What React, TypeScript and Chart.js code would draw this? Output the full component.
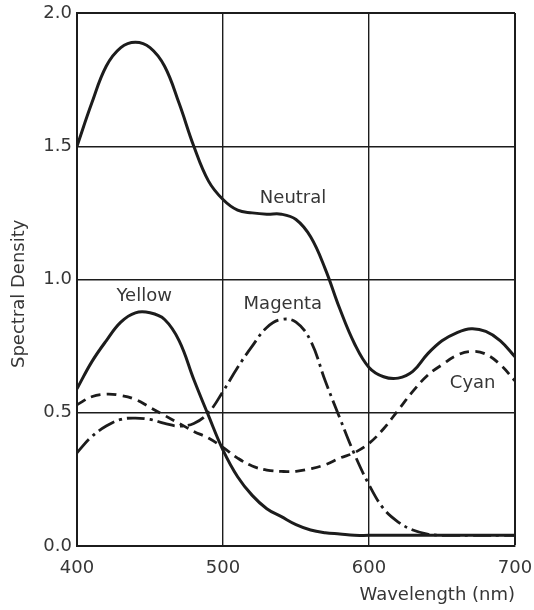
import { useEffect, useRef } from "react";
import { Chart, registerables } from "chart.js";

Chart.register(...registerables);

const wavelengths = [400, 410, 420, 430, 440, 450, 460, 470, 480, 490, 500, 510, 520, 530, 540, 550, 560, 570, 580, 590, 600, 610, 620, 630, 640, 650, 660, 670, 680, 690, 700];
const neutral = [1.5, 1.66, 1.8, 1.87, 1.89, 1.87, 1.8, 1.66, 1.5, 1.37, 1.3, 1.26, 1.25, 1.245, 1.245, 1.225, 1.16, 1.04, 0.89, 0.76, 0.67, 0.635, 0.63, 0.655, 0.72, 0.77, 0.8, 0.815, 0.805, 0.77, 0.71];
const yellow = [0.59, 0.69, 0.77, 0.84, 0.875, 0.875, 0.85, 0.77, 0.625, 0.49, 0.36, 0.26, 0.19, 0.14, 0.11, 0.08, 0.06, 0.05, 0.045, 0.04, 0.04, 0.04, 0.04, 0.04, 0.04, 0.04, 0.04, 0.04, 0.04, 0.04, 0.04];
const magenta = [0.35, 0.41, 0.45, 0.475, 0.48, 0.475, 0.46, 0.45, 0.46, 0.5, 0.58, 0.67, 0.75, 0.82, 0.85, 0.84, 0.77, 0.62, 0.48, 0.345, 0.23, 0.14, 0.09, 0.06, 0.045, 0.04, 0.04, 0.04, 0.04, 0.04, 0.04];
const cyan = [0.53, 0.56, 0.57, 0.565, 0.55, 0.52, 0.49, 0.46, 0.43, 0.405, 0.37, 0.33, 0.3, 0.285, 0.28, 0.28, 0.29, 0.305, 0.33, 0.35, 0.385, 0.44, 0.51, 0.58, 0.64, 0.68, 0.715, 0.73, 0.72, 0.68, 0.62];

const curveLabels = ["Neutral", "Yellow", "Magenta", "Cyan"];
const curveLabelX = [548, 446, 541, 671];
const curveLabelY = [1.305, 0.935, 0.905, 0.61];

const xTitle = "Wavelength (nm)";
const yTitle = "Spectral Density";

const FONT = '"DejaVu Sans", "Liberation Sans", sans-serif';
const TEXT = "#363636";
const INK = "#1c1c1c";

const labelPlugin = {
  id: "curveLabels",
  afterDatasetsDraw(chart: any) {
    const { ctx, scales } = chart;
    ctx.save();
    ctx.font = `18px ${FONT}`;
    ctx.fillStyle = TEXT;
    ctx.textAlign = "center";
    ctx.textBaseline = "middle";
    curveLabels.forEach((t, i) => {
      ctx.fillText(t, scales.x.getPixelForValue(curveLabelX[i]), scales.y.getPixelForValue(curveLabelY[i]));
    });
    ctx.restore();
  },
};

function pts(vals: number[]) {
  return wavelengths.map((w, i) => ({ x: w, y: vals[i] }));
}

export default function App() {
  const ref = useRef<HTMLCanvasElement | null>(null);
  useEffect(() => {
    if (!ref.current) return;
    const common = {
      borderColor: INK,
      pointRadius: 0,
      fill: false,
      tension: 0.4,
    };
    const chart = new Chart(ref.current, {
      type: "line",
      data: {
        datasets: [
          { ...common, label: "Neutral", data: pts(neutral), borderWidth: 3 },
          { ...common, label: "Yellow", data: pts(yellow), borderWidth: 3 },
          { ...common, label: "Magenta", data: pts(magenta), borderWidth: 2.8, borderDash: [18, 5, 3, 5] },
          { ...common, label: "Cyan", data: pts(cyan), borderWidth: 2.8, borderDash: [10, 6] },
        ],
      },
      options: {
        animation: false,
        responsive: true,
        maintainAspectRatio: false,
        layout: { padding: { top: 13, right: 19, left: 0, bottom: 0 } },
        plugins: { legend: { display: false }, tooltip: { enabled: false } },
        scales: {
          x: {
            type: "linear",
            min: 400,
            max: 700,
            afterFit: (s: any) => {
              s.height = 64;
              s.paddingLeft = 0;
              s.paddingRight = 0;
            },
            ticks: { stepSize: 100, padding: 12, color: TEXT, font: { family: FONT, size: 18 } },
            grid: {
              drawTicks: false,
              color: INK,
              lineWidth: (c: any) => (c.tick && c.tick.value === 700 ? 2 : 1.4),
            },
            border: { display: true, color: INK, width: 2 },
            title: {
              display: true,
              text: xTitle,
              align: "end",
              color: TEXT,
              font: { family: FONT, size: 18 },
              padding: { top: 0, bottom: 4 },
            },
          },
          y: {
            min: 0,
            max: 2,
            afterFit: (s: any) => {
              s.width = 77;
              s.paddingTop = 0;
              s.paddingBottom = 0;
            },
            ticks: {
              stepSize: 0.5,
              padding: 5,
              color: TEXT,
              font: { family: FONT, size: 18 },
              callback: (v: any) => Number(v).toFixed(1),
            },
            grid: {
              drawTicks: false,
              color: INK,
              lineWidth: (c: any) => (c.tick && c.tick.value === 2 ? 2 : 1.4),
            },
            border: { display: true, color: INK, width: 2 },
            title: {
              display: true,
              text: yTitle + "\u00A0\u00A0\u00A0\u00A0\u00A0",
              color: TEXT,
              font: { family: FONT, size: 18 },
              padding: { top: 9, bottom: 0 },
            },
          },
        },
      },
      plugins: [labelPlugin],
    });
    return () => chart.destroy();
  }, []);
  return (
    <div style={{ position: "fixed", left: 0, top: 0, width: 534, height: 610, background: "#fff" }}>
      <canvas ref={ref} />
    </div>
  );
}
